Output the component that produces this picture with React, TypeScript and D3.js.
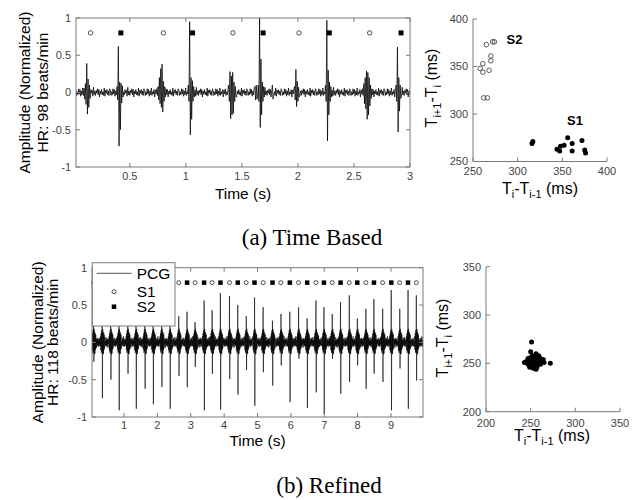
import React from 'react';
import * as d3 from 'd3';

// ---------- (a) time based ----------
const timeTicksA = [0.5, 1, 1.5, 2, 2.5, 3];
const ampTicks = [-1, -0.5, 0, 0.5, 1];
const s1TimesA = [0.15, 0.80, 1.42, 2.01, 2.64];
const s2TimesA = [0.42, 1.06, 1.69, 2.28, 2.92];
// quiet-segment jitter of the PCG trace (normalized amplitude)
const noiseA = [0.03, -0.04, 0.01, -0.03, 0.05, -0.02, 0.04, -0.05, 0.02, -0.03, 0.06, -0.04, 0.01, -0.02, 0.04, -0.06,
  0.03, -0.02, 0.05, -0.04, 0.01, -0.03, 0.04, -0.01, 0.03, -0.05, 0.07, -0.03, 0.02, -0.04, 0.03, -0.01, 0.05, -0.03,
  0.04, -0.06, 0.02, -0.02, 0.04, -0.03, 0.01, -0.04, 0.06, -0.05, 0.03, -0.01, 0.04, -0.03, 0.02, -0.04, 0.05];
// heart sound bursts: start time (s) and oscillation peaks
const burstStartA = [0.09, 0.386, 0.75, 1.023, 1.38, 1.615, 1.643, 1.77, 1.97, 2.248, 2.59, 2.878];
const burstValsA = [
  [0.06, -0.09, 0.12, -0.16, 0.39, -0.29, 0.18, -0.2, 0.1, -0.08],
  [0.08, -0.1, 0.62, -0.72, 0.14, -0.5, 0.12, -0.14, 0.09, -0.06],
  [0.08, -0.1, 0.2, -0.15, 0.32, -0.2, 0.38, -0.26, 0.15, -0.12, 0.08, -0.06],
  [0.1, -0.12, 0.95, -0.57, 0.2, -0.36, 0.16, -0.12, 0.08, -0.06],
  [0.1, -0.12, 0.28, -0.35, 0.22, -0.3, 0.27, -0.28, 0.14, -0.12, 0.08, -0.06],
  [0.08, -0.1, 0.1, -0.09],
  [0.1, -0.12, 1.0, -0.47, 0.45, -0.3, 0.14, -0.12, 0.08, -0.06],
  [0.1, -0.09],
  [0.08, -0.1, 0.31, -0.19, 0.15, -0.12, 0.07, -0.06],
  [0.1, -0.12, 0.97, -0.65, 0.3, -0.3, 0.14, -0.12, 0.08, -0.06],
  [0.12, -0.15, 0.2, -0.22, 0.29, -0.36, 0.27, -0.3, 0.2, -0.18, 0.1, -0.08],
  [0.1, -0.12, 0.61, -0.53, 0.2, -0.25, 0.1, -0.08],
];
// Poincare-like interval plot (ms)
const intTicksA = [250, 300, 350, 400];
const s2PrevA = [258, 261, 261, 265, 268, 270, 270, 272, 274, 262, 266];
const s2NextA = [348, 353, 344, 373, 346, 356, 361, 376, 376, 317, 317];
const s1PrevA = [317, 316, 344, 347, 348, 352, 356, 361, 361, 372, 375, 376];
const s1NextA = [271, 269, 263, 261, 266, 267, 275, 269, 261, 272, 262, 259];

// ---------- (b) refined ----------
const timeTicksB = [1, 2, 3, 4, 5, 6, 7, 8, 9];
const s1TimesB = [0.09, 0.60, 1.11, 1.62, 2.13, 2.64, 3.13, 3.64, 4.16, 4.66, 5.17, 5.70, 6.23, 6.75, 7.24, 7.75, 8.25, 8.75, 9.26, 9.76];
const s1TopB = [0.3, 0.35, 0.3, 0.35, 0.3, 0.35, 0.27, 0.43, 0.62, 0.35, 0.47, 0.38, 0.47, 0.56, 0.38, 0.63, 0.45, 0.45, 0.45, 0.63];
const s1BotB = [-0.26, -0.5, -0.42, -0.62, -0.6, -0.45, -0.33, -0.42, -0.49, -0.37, -0.4, -0.31, -0.22, -0.67, -0.22, -0.53, -0.62, -0.53, -0.35, -0.51];
const s2TimesB = [0.34, 0.85, 1.36, 1.87, 2.38, 2.89, 3.40, 3.89, 4.41, 4.91, 5.45, 5.97, 6.49, 6.99, 7.49, 7.99, 8.49, 9.01, 9.51];
const s2TopB = [0.4, 0.35, 0.4, 0.35, 0.45, 0.41, 0.56, 0.66, 0.5, 0.6, 0.29, 0.41, 0.32, 0.47, 0.54, 0.32, 0.58, 0.7, 0.7];
const s2BotB = [-0.75, -0.91, -0.89, -0.83, -0.89, -0.6, -0.91, -0.9, -0.7, -0.85, -0.58, -0.8, -0.88, -0.96, -0.69, -0.31, -0.42, -0.91, -0.89];
const noiseB = [0.04, -0.05, 0.03, -0.06, 0.05, -0.03, 0.06, -0.04, 0.02, -0.05, 0.07, -0.04, 0.03, -0.06, 0.04, -0.03,
  0.05, -0.07, 0.04, -0.02, 0.06, -0.05, 0.03, -0.04, 0.05, -0.06, 0.02, -0.03, 0.06, -0.05, 0.04, -0.04, 0.08, -0.05,
  0.03, -0.06, 0.04, -0.02, 0.05, -0.04, 0.03, -0.05, 0.06];
// wiggle around each spike
const preB = [0.08, -0.1, 0.12, -0.14, 0.16, -0.12];
const postB = [0.18, -0.16, 0.14, -0.15, 0.12, -0.1, 0.1, -0.08];
const intTicksB = [200, 250, 300, 350];
const prevB = [251, 250, 252, 256, 259, 247, 249, 252, 254, 257, 260, 262, 243, 246, 248, 250, 253, 255, 257, 255, 251, 258, 261, 265, 264, 249, 253, 256, 272, 245, 250, 254, 260];
const nextB = [272, 262, 258, 260, 258, 255, 253, 252, 254, 255, 252, 253, 251, 250, 248, 249, 248, 247, 246, 250, 250, 250, 249, 251, 254, 246, 245, 244, 250, 252, 256, 257, 256];

const FONT = "'Liberation Sans', Arial, sans-serif";
const AX = '#7a7a7a';
const TK = '#444';

function buildTrace(t0: number, t1: number, dt: number, noise: number[], starts: number[], bursts: number[][]) {
  const n = Math.round((t1 - t0) / dt) + 1;
  const vals = d3.range(n).map(i => noise[i % noise.length]);
  starts.forEach((s, b) => {
    const i0 = Math.round((s - t0) / dt);
    bursts[b].forEach((v, j) => { if (i0 + j >= 0 && i0 + j < n) vals[i0 + j] = v; });
  });
  return vals.map((v, i) => [t0 + i * dt, v] as [number, number]);
}

function TimePlot(props: any) {
  const { box, xDom, xTicks, trace, s1, s2, rC, sq, yLines, labX, xLabBase, titleBase, sw } = props;
  const x = d3.scaleLinear().domain(xDom).range([box.l, box.r]);
  const y = d3.scaleLinear().domain([-1, 1]).range([box.b, box.t]);
  const line = d3.line<[number, number]>().x(d => x(d[0])).y(d => y(d[1]));
  const tl = 4;
  const cy = (box.t + box.b) / 2;
  return (
    <g>
      <clipPath id={`clip${box.l}`}>
        <rect x={box.l} y={box.t} width={box.r - box.l} height={box.b - box.t} />
      </clipPath>
      <path d={line(trace) || ''} fill="none" stroke="#000" strokeWidth={sw} clipPath={`url(#clip${box.l})`} />
      {s1.map((t: number) => (
        <circle key={'c' + t} cx={x(t)} cy={y(0.8)} r={rC} fill="#fff" stroke="#222" strokeWidth={0.8} />
      ))}
      {s2.map((t: number) => (
        <rect key={'s' + t} x={x(t) - sq / 2} y={y(0.8) - sq / 2} width={sq} height={sq} fill="#000" />
      ))}
      <rect x={box.l} y={box.t} width={box.r - box.l} height={box.b - box.t} fill="none" stroke={AX} strokeWidth={1} />
      {xTicks.map((t: number) => (
        <g key={'xt' + t}>
          <line x1={x(t)} x2={x(t)} y1={box.b} y2={box.b - tl} stroke={AX} />
          <line x1={x(t)} x2={x(t)} y1={box.t} y2={box.t + tl} stroke={AX} />
          <text x={x(t)} y={xLabBase} fontSize={11} fill={TK} textAnchor="middle" fontFamily={FONT}>{t}</text>
        </g>
      ))}
      {ampTicks.map(v => (
        <g key={'yt' + v}>
          <line x1={box.l} x2={box.l + tl} y1={y(v)} y2={y(v)} stroke={AX} />
          <line x1={box.r} x2={box.r - tl} y1={y(v)} y2={y(v)} stroke={AX} />
          <text x={box.l - 5} y={y(v)} dy="0.35em" fontSize={11} fill={TK} textAnchor="end" fontFamily={FONT}>{v}</text>
        </g>
      ))}
      {yLines.map((s: string, i: number) => (
        <text key={s} transform={`translate(${labX[i]},${cy}) rotate(-90)`} fontSize={15.5} textAnchor="middle" fontFamily={FONT}>{s}</text>
      ))}
      <text x={(box.l + box.r) / 2} y={titleBase} fontSize={15.5} textAnchor="middle" fontFamily={FONT}>Time (s)</text>
    </g>
  );
}

function IntervalPlot(props: any) {
  const { box, dom, ticks, groups, xLabBase, xTitle, yTitle } = props;
  const x = d3.scaleLinear().domain(dom).range([box.l, box.r]);
  const y = d3.scaleLinear().domain(dom).range([box.b, box.t]);
  const tl = 4;
  return (
    <g>
      {groups.map((g: any, gi: number) => g.xs.map((v: number, i: number) => (
        g.open
          ? <circle key={gi + '-' + i} cx={x(v)} cy={y(g.ys[i])} r={2.3} fill="none" stroke="#333" strokeWidth={0.8} />
          : <circle key={gi + '-' + i} cx={x(v)} cy={y(g.ys[i])} r={2.5} fill="#000" />
      )))}
      <line x1={box.l} x2={box.r} y1={box.b} y2={box.b} stroke={AX} />
      <line x1={box.l} x2={box.l} y1={box.t} y2={box.b} stroke={AX} />
      {ticks.map((t: number) => (
        <g key={t}>
          <line x1={x(t)} x2={x(t)} y1={box.b} y2={box.b - tl} stroke={AX} />
          <line x1={box.l} x2={box.l + tl} y1={y(t)} y2={y(t)} stroke={AX} />
          <text x={x(t)} y={xLabBase} fontSize={11} fill={TK} textAnchor="middle" fontFamily={FONT}>{t}</text>
          <text x={box.l - 5} y={y(t)} dy="0.35em" fontSize={11} fill={TK} textAnchor="end" fontFamily={FONT}>{t}</text>
        </g>
      ))}
      {groups.filter((g: any) => g.label).map((g: any) => (
        <text key={g.label} x={g.lx} y={g.ly} fontSize={13} fontWeight="bold" fontFamily={FONT}>{g.label}</text>
      ))}
      <text x={xTitle[0]} y={xTitle[1]} fontSize={16} textAnchor="middle" fontFamily={FONT}>
        T<tspan dy={4} fontSize={11}>i</tspan><tspan dy={-4}>-T</tspan><tspan dy={4} fontSize={11}>i-1</tspan><tspan dy={-4}> (ms)</tspan>
      </text>
      <text transform={`translate(${yTitle[0]},${yTitle[1]}) rotate(-90)`} fontSize={16} textAnchor="middle" fontFamily={FONT}>
        T<tspan dy={4} fontSize={11}>i+1</tspan><tspan dy={-4}>-T</tspan><tspan dy={4} fontSize={11}>i</tspan><tspan dy={-4}> (ms)</tspan>
      </text>
    </g>
  );
}

export default function App() {
  const traceA = buildTrace(0.02, 3.0, 0.006, noiseA, burstStartA, burstValsA);
  const dtB = 0.008;
  const startsB: number[] = [];
  const valsB: number[][] = [];
  s1TimesB.forEach((t, i) => { startsB.push(t - preB.length * dtB); valsB.push([...preB, s1TopB[i], s1BotB[i], ...postB]); });
  s2TimesB.forEach((t, i) => { startsB.push(t - preB.length * dtB); valsB.push([...preB, s2TopB[i], s2BotB[i], ...postB]); });
  const traceB = buildTrace(0.04, 9.96, dtB, noiseB, startsB, valsB);

  return (
    <svg width={641} height={500} style={{ position: 'absolute', left: 0, top: 0, background: '#fff' }}>
      <TimePlot box={{ l: 76, r: 410, t: 18, b: 167 }} xDom={[0.02, 3.0]} xTicks={timeTicksA} trace={traceA}
        s1={s1TimesA} s2={s2TimesA} rC={2.2} sq={5} sw={0.75}
        yLines={['Amplitude (Normalized)', 'HR: 98 beats/min']} labX={[30, 47.5]} xLabBase={180} titleBase={198.5} />
      <IntervalPlot box={{ l: 473, r: 607, t: 19, b: 161.5 }} dom={[250, 400]} ticks={intTicksA} xLabBase={175}
        xTitle={[540, 194]} yTitle={[437, 88]}
        groups={[
          { xs: s2PrevA, ys: s2NextA, open: true, label: 'S2', lx: 506.5, ly: 43.5 },
          { xs: s1PrevA, ys: s1NextA, open: false, label: 'S1', lx: 567, ly: 125 },
        ]} />
      <text x={312} y={245} fontSize={23} textAnchor="middle" fontFamily="'Liberation Serif', 'Times New Roman', serif">(a) Time Based</text>

      <TimePlot box={{ l: 92, r: 423, t: 267.7, b: 417 }} xDom={[0.04, 9.96]} xTicks={timeTicksB} trace={traceB}
        s1={s1TimesB} s2={s2TimesB} rC={2} sq={4.5} sw={0.6}
        yLines={['Amplitude (Normalized)', 'HR: 118 beats/min']} labX={[42.5, 58]} xLabBase={428.5} titleBase={446} />
      <g>
        <rect x={92.3} y={262.7} width={82.7} height={63.3} fill="#fff" stroke={AX} />
        <line x1={96.7} x2={131.7} y1={273.3} y2={273.3} stroke="#555" strokeWidth={1} />
        <text x={136.7} y={278.5} fontSize={15.5} fontFamily={FONT}>PCG</text>
        <circle cx={114} cy={291.7} r={2} fill="#fff" stroke="#222" strokeWidth={0.8} />
        <text x={136.7} y={296.5} fontSize={15.5} fontFamily={FONT}>S1</text>
        <rect x={111.75} y={304.45} width={4.5} height={4.5} fill="#000" />
        <text x={136.7} y={312} fontSize={15.5} fontFamily={FONT}>S2</text>
      </g>
      <IntervalPlot box={{ l: 486, r: 620, t: 266.7, b: 411.7 }} dom={[200, 350]} ticks={intTicksB} xLabBase={426.5}
        xTitle={[552, 441]} yTitle={[448, 338]}
        groups={[{ xs: prevB, ys: nextB, open: false }]} />
      <text x={329} y={493} fontSize={23} textAnchor="middle" fontFamily="'Liberation Serif', 'Times New Roman', serif">(b) Refined</text>
    </svg>
  );
}
